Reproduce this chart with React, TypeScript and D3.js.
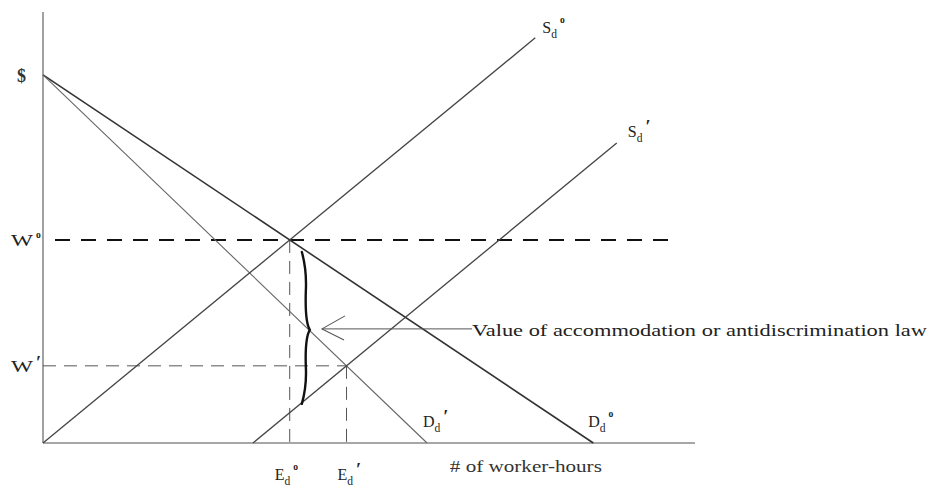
import React from "react";
import * as d3 from "d3";

// quantity (worker-hours) and wage, arbitrary units
const demandOrig = [[0, 85.4], [84.4, 0]]; // D_d°
const demandNew = [[0, 85.4], [58.9, 0]]; // D_d'
const supplyOrig = [[0, 0], [75.5, 94.0]]; // S_d°
const supplyNew = [[32.2, 0], [88.0, 69.6]]; // S_d'
const axisTop = 100;
const axisRight = 100;
const wageLineEnd = 96.9;
const braceQ = 39.7;
const arrowEndQ = 65.8;
const annotation = "Value of accommodation or antidiscrimination law";
const xTitle = "# of worker-hours";

const W = 930;
const H = 492;

type Pt = number[];

function lineAt(l: Pt[], q: number) {
  const [[x0, y0], [x1, y1]] = l;
  return y0 + ((y1 - y0) * (q - x0)) / (x1 - x0);
}

function intersect(a: Pt[], b: Pt[]) {
  const sa = (a[1][1] - a[0][1]) / (a[1][0] - a[0][0]);
  const sb = (b[1][1] - b[0][1]) / (b[1][0] - b[0][0]);
  const ia = a[0][1] - sa * a[0][0];
  const ib = b[0][1] - sb * b[0][0];
  const q = (ib - ia) / (sa - sb);
  return [q, ia + sa * q];
}

function Label({ x, y, main, sub, sup, size = 16, mainLen }: any) {
  return (
    <text x={x} y={y} fontSize={size} fill="#222">
      {mainLen ? (
        <tspan textLength={mainLen} lengthAdjust="spacingAndGlyphs">{main}</tspan>
      ) : (
        main
      )}
      {sub && <tspan fontSize={size * 0.72} dy={5}>{sub}</tspan>}
      {sup === "o" && (
        <tspan fontSize={size * 0.6} fontWeight={700} dx={3} dy={sub ? -15 : -8}>o</tspan>
      )}
      {sup === "'" && (
        <tspan fontSize={size * 1.15} fontWeight={700} dx={3} dy={sub ? -9 : -3}>′</tspan>
      )}
    </text>
  );
}

export default function App() {
  const x = d3.scaleLinear().domain([0, axisRight]).range([43, 695]);
  const y = d3.scaleLinear().domain([0, axisTop]).range([443, 12]);
  const line = d3.line<Pt>().x((d) => x(d[0])).y((d) => y(d[1]));

  const e0 = intersect(demandOrig, supplyOrig);
  const e1 = intersect(demandNew, supplyNew);
  const tipP = lineAt(demandNew, braceQ + 1.1);

  const bx = x(braceQ);
  const yt = y(e0[1]) + 12;
  const yb = y(e1[1]) + 38;
  const ym = y(tipP);
  const brace =
    `M${bx},${yt} Q${bx + 5},${yt + 18} ${bx + 4},${(yt + ym) / 2} ` +
    `Q${bx + 3},${ym - 8} ${bx + 8},${ym} ` +
    `Q${bx + 3},${ym + 8} ${bx + 4},${(ym + yb) / 2} ` +
    `Q${bx + 5},${yb - 18} ${bx},${yb}`;

  const tipX = x(braceQ + 1.1) + 13;
  const endX = x(arrowEndQ);

  return (
    <div style={{ position: "absolute", left: 0, top: 0 }}>
      <svg width={W} height={H} style={{ display: "block", background: "#fff", fontFamily: "'Liberation Serif', 'Times New Roman', serif" }}>
        {/* axes */}
        <line x1={x(0)} x2={x(0)} y1={y(0)} y2={y(axisTop)} stroke="#8a8a8a" strokeWidth={1.6} />
        <line x1={x(0)} x2={x(axisRight)} y1={y(0)} y2={y(0)} stroke="#8a8a8a" strokeWidth={1.6} />

        {/* wage guides */}
        <line x1={x(0) + 12} x2={x(wageLineEnd)} y1={y(e0[1])} y2={y(e0[1])} stroke="#111" strokeWidth={2} strokeDasharray="15 11" />
        <line x1={x(0)} x2={x(e1[0])} y1={y(e1[1])} y2={y(e1[1])} stroke="#555" strokeWidth={1} strokeDasharray="13 8" />
        <line x1={x(e0[0])} x2={x(e0[0])} y1={y(e0[1])} y2={y(0)} stroke="#555" strokeWidth={1} strokeDasharray="13 8" />
        <line x1={x(e1[0])} x2={x(e1[0])} y1={y(e1[1])} y2={y(0)} stroke="#555" strokeWidth={1} strokeDasharray="13 8" />

        {/* curves */}
        <path d={line(demandOrig) || ""} stroke="#333" strokeWidth={1.6} fill="none" />
        <path d={line(demandNew) || ""} stroke="#666" strokeWidth={1.1} fill="none" />
        <path d={line(supplyOrig) || ""} stroke="#444" strokeWidth={1.3} fill="none" />
        <path d={line(supplyNew) || ""} stroke="#444" strokeWidth={1.3} fill="none" />

        {/* brace and arrow */}
        <path d={brace} stroke="#111" strokeWidth={2.4} fill="none" strokeLinecap="round" />
        <line x1={tipX} x2={endX} y1={ym - 1} y2={ym - 1} stroke="#555" strokeWidth={1} />
        <polyline points={`${tipX + 23},${ym - 14} ${tipX},${ym - 1} ${tipX + 22},${ym + 10}`} stroke="#555" strokeWidth={1.1} fill="none" />
        <text x={endX} y={ym + 6} fontSize={17} fill="#222" textLength={455} lengthAdjust="spacingAndGlyphs">
          {annotation}
        </text>

        {/* axis labels */}
        <text x={x(0) - 26} y={y(demandOrig[0][1]) + 7} fontSize={18} fontWeight={700} fill="#333">$</text>
        <Label x={x(0) - 32} y={y(e0[1]) + 6} main="W" sup="o" mainLen={22} />
        <Label x={x(0) - 32} y={y(e1[1]) + 6} main="W" sup="'" mainLen={22} />
        <Label x={x(e0[0]) - 15} y={y(0) + 37} main="E" sub="d" sup="o" />
        <Label x={x(e1[0]) - 9} y={y(0) + 37} main="E" sub="d" sup="'" />
        <text x={x(62.4)} y={y(0) + 29} fontSize={16} fill="#333" textLength={152} lengthAdjust="spacingAndGlyphs">
          {xTitle}
        </text>

        {/* curve labels */}
        <Label x={x(supplyOrig[1][0]) + 7} y={y(supplyOrig[1][1]) - 5} main="S" sub="d" sup="o" />
        <Label x={x(supplyNew[1][0]) + 11} y={y(supplyNew[1][1]) - 6} main="S" sub="d" sup="'" />
        <Label x={x(demandNew[1][0]) - 4} y={y(0) - 16} main="D" sub="d" sup="'" />
        <Label x={x(demandOrig[1][0]) - 5} y={y(0) - 16} main="D" sub="d" sup="o" />
      </svg>
    </div>
  );
}
